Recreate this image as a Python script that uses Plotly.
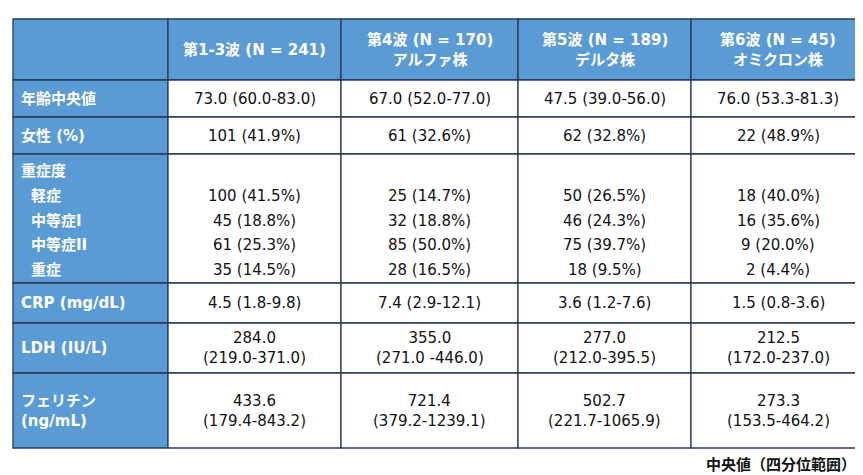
import plotly.graph_objects as go

# data
wave_headers = ["第1-3波 (N = 241)", "第4波 (N = 170)<br>アルファ株", "第5波 (N = 189)<br>デルタ株", "第6波 (N = 45)<br>オミクロン株"]
row_labels = ["年齢中央値", "女性 (%)", "重症度", "CRP (mg/dL)", "LDH (IU/L)", "フェリチン<br>(ng/mL)"]
severity_labels = ["軽症", "中等症I", "中等症II", "重症"]

age = ["73.0 (60.0-83.0)", "67.0 (52.0-77.0)", "47.5 (39.0-56.0)", "76.0 (53.3-81.3)"]
female = ["101 (41.9%)", "61 (32.6%)", "62 (32.8%)", "22 (48.9%)"]
mild = ["100 (41.5%)", "25 (14.7%)", "50 (26.5%)", "18 (40.0%)"]
moderate1 = ["45 (18.8%)", "32 (18.8%)", "46 (24.3%)", "16 (35.6%)"]
moderate2 = ["61 (25.3%)", "85 (50.0%)", "75 (39.7%)", "9 (20.0%)"]
severe = ["35 (14.5%)", "28 (16.5%)", "18 (9.5%)", "2 (4.4%)"]
crp = ["4.5 (1.8-9.8)", "7.4 (2.9-12.1)", "3.6 (1.2-7.6)", "1.5 (0.8-3.6)"]
ldh = ["284.0<br>(219.0-371.0)", "355.0<br>(271.0 -446.0)", "277.0<br>(212.0-395.5)", "212.5<br>(172.0-237.0)"]
ferritin = ["433.6<br>(179.4-843.2)", "721.4<br>(379.2-1239.1)", "502.7<br>(221.7-1065.9)", "273.3<br>(153.5-464.2)"]
caption = "中央値（四分位範囲）"

# geometry (pixels)
col_x = [5, 160, 333, 510, 683, 857]
row_y = [11, 72, 109, 146, 275, 315, 365, 440]
BLUE = "#5B9BD5"
LINE = "#2B3A55"
FONT = "DejaVu Sans, Noto Sans CJK JP"

fig = go.Figure()
shapes = []
ann = []

# cell backgrounds
for r in range(len(row_y) - 1):
    for c in range(len(col_x) - 1):
        fill = BLUE if (r == 0 or c == 0) else "white"
        shapes.append(dict(type="rect", x0=col_x[c], x1=col_x[c + 1], y0=row_y[r], y1=row_y[r + 1],
                           fillcolor=fill, line=dict(color=LINE, width=1.3), layer="below"))

def add_text(x, y, text, color="#111111", bold=False, align="center"):
    ann.append(dict(x=x, y=y, text=f"<b>{text}</b>" if bold else text, showarrow=False,
                    xanchor=align, yanchor="middle", align=align,
                    font=dict(family=FONT, size=15, color=color)))

def mid(a, b):
    return (a + b) / 2

# header
for c, h in enumerate(wave_headers):
    add_text(mid(col_x[c + 1], col_x[c + 2]), mid(row_y[0], row_y[1]), h, color="white", bold=True)

# row labels
for r, lab in enumerate(row_labels):
    if r == 2:
        add_text(11, row_y[3] + 17, lab, color="white", bold=True, align="left")
        for i, s in enumerate(severity_labels):
            add_text(21, row_y[3] + 42 + i * 24.7, s, color="white", bold=True, align="left")
    else:
        add_text(11, mid(row_y[r + 1], row_y[r + 2]), lab, color="white", bold=True, align="left")

# body values
single_rows = {1: age, 2: female, 4: crp, 5: ldh, 6: ferritin}
for c in range(4):
    cx = mid(col_x[c + 1], col_x[c + 2])
    for r, vals in single_rows.items():
        add_text(cx, mid(row_y[r], row_y[r + 1]), vals[c])
    for i, vals in enumerate([mild, moderate1, moderate2, severe]):
        add_text(cx, row_y[3] + 42 + i * 24.7, vals[c])

add_text(850, 457, caption, bold=True, align="right")

fig.update_layout(
    width=863, height=475, margin=dict(l=0, r=0, t=0, b=0),
    paper_bgcolor="white", plot_bgcolor="white",
    xaxis=dict(range=[0, 863], visible=False, fixedrange=True),
    yaxis=dict(range=[475, 0], visible=False, fixedrange=True),
    shapes=shapes, annotations=ann, showlegend=False,
)
fig.write_html("out.html")
